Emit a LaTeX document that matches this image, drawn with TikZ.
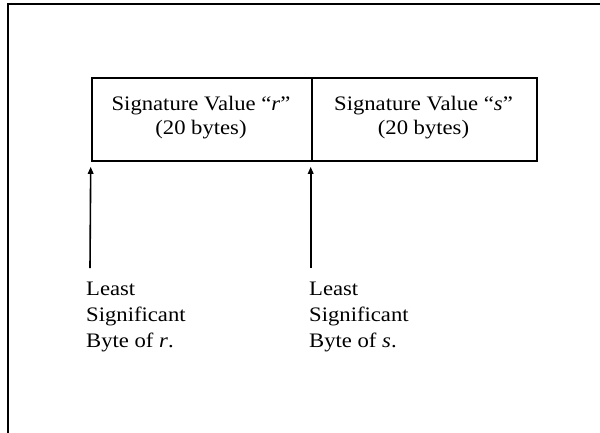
\documentclass[tikz,border=0pt]{standalone}
\usepackage{fontspec}
\setmainfont{Liberation Serif}[FakeStretch=1.1]
\usetikzlibrary{arrows.meta,calc}
\begin{document}
\begin{tikzpicture}[x=1pt,y=-1pt,
  frame/.style={line width=2.8pt},
  cell/.style={draw,line width=1.8pt,minimum height=82.7pt,inner sep=0pt,anchor=north west},
  celltext/.style={anchor=north,inner sep=0pt,align=center,font=\fontsize{20.6}{24}\selectfont},
  lbl/.style={anchor=north west,inner sep=0pt,align=left,font=\fontsize{20.6}{26}\selectfont},
  arr/.style={line width=1.6pt,-{Triangle[length=7pt,width=5.5pt]}}]
\useasboundingbox (0,0) rectangle (600,432);
\draw[frame] (8,440) -- (8,4) -- (610,4);
\node[cell,minimum width=220pt] (rcell) at (90.7,77.3) {};
\node[cell,minimum width=225pt] (scell) at (310.7,77.3) {};
\node[celltext] (rtext) at (201,96.5) {Signature Value “\textit{r}”\\(20 bytes)};
\node[celltext] (stext) at (423.5,96.5) {Signature Value “\textit{s}”\\(20 bytes)};
\node[lbl] (rlab) at (86,282) {Least\\Significant\\Byte of \textit{r}.};
\node[lbl] (slab) at (309,282) {Least\\Significant\\Byte of \textit{s}.};
\coordinate (rtail) at ($(rlab.north west)+(4,-14)$);
\coordinate (rtip) at ($(rcell.south west)+(0,5)$);
\coordinate (stail) at ($(slab.north west)+(1.7,-14)$);
\coordinate (stip) at ($(scell.south west)+(0,5)$);
\draw[arr] (rtail) -- (rtip);
\draw[arr] (stail) -- (stip);
\end{tikzpicture}
\end{document}
